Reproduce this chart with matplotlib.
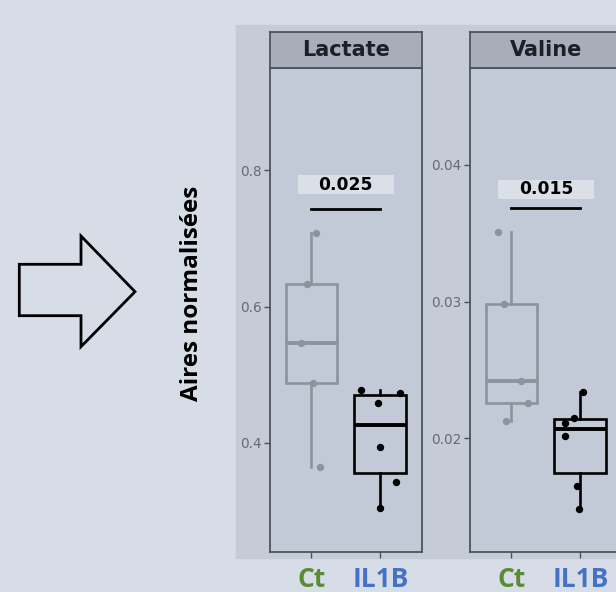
import numpy as np
import matplotlib
matplotlib.use("Agg")
import matplotlib.pyplot as plt
from matplotlib.patches import Rectangle, Polygon

# data
groups = ["Ct", "IL1B"]
group_colors = ["#5a8a34", "#4472c4"]

lactate_ct = [0.708, 0.633, 0.547, 0.488, 0.364]
lactate_il1b = [0.477, 0.473, 0.459, 0.394, 0.342, 0.304]
lactate_jit_ct = [0.06, -0.07, -0.155, 0.02, 0.12]
lactate_jit_il1b = [-0.275, 0.29, -0.035, -0.01, 0.23, 0.0]
lactate_ticks = [0.4, 0.6, 0.8]
lactate_ylim = (0.240, 0.951)
lactate_p = "0.025"
lactate_bar_y = 0.743
lactate_label_y = 0.779

valine_ct = [0.0351, 0.0298, 0.0242, 0.0226, 0.0213]
valine_il1b = [0.0234, 0.0215, 0.0211, 0.0202, 0.0165, 0.0148]
valine_jit_ct = [-0.2, -0.107, 0.144, 0.24, -0.082]
valine_jit_il1b = [0.033, -0.097, -0.22, -0.22, -0.048, -0.014]
valine_ticks = [0.02, 0.03, 0.04]
valine_ylim = (0.0117, 0.04712)
valine_p = "0.015"
valine_bar_y = 0.03683
valine_label_y = 0.03824

W, H = 616, 592
fig = plt.figure(figsize=(W / 100, H / 100), dpi=100)
fig.patch.set_facecolor("#d7dde7")


def px(x0, y0, x1, y1):
    # pixel box -> figure fraction [l, b, w, h]
    return [x0 / W, 1 - y1 / H, (x1 - x0) / W, (y1 - y0) / H]


# plot background
fig.patches.append(Rectangle((236 / W, 1 - 558 / H), 1, (558 - 25) / H,
                             transform=fig.transFigure, color="#c5ccd8", zorder=-5))

# block arrow
arrow = [(19.3, 264.3), (81, 264.3), (81, 236), (135, 291.7), (81, 346.7), (81, 315.7), (19.3, 315.7)]
fig.patches.append(Polygon([(x / W, 1 - y / H) for x, y in arrow], closed=True,
                           transform=fig.transFigure, fill=False, ec="black", lw=2))

fig.text(192 / W, 1 - 293 / H, "Aires normalisées", rotation=90, ha="center", va="center",
         fontsize=17.5, fontweight="bold", family="Open Sans", color="black")

border = "#4e535b"


def panel(left, title, ct, il, jct, jil, ticks, ylim, p, bar_y, lab_y):
    ax = fig.add_axes(px(left, 67.7, left + 151.7, 551.7))
    ax.set_facecolor("#c3cad7")
    bp = ax.boxplot([ct, il], positions=[1, 2], widths=0.75, whis=1.5, showfliers=False,
                    showcaps=False, patch_artist=True)
    cols = ["#8e949d", "black"]
    for i, c in enumerate(cols):
        bp["boxes"][i].set(facecolor="none", edgecolor=c, lw=1.9)
        bp["medians"][i].set(color=c, lw=2.8)
        for w in bp["whiskers"][2 * i:2 * i + 2]:
            w.set(color=c, lw=1.9)
    ax.plot(np.array(jct) + 1, ct, "o", color=cols[0], ms=4.3, zorder=3)
    ax.plot(np.array(jil) + 2, il, "o", color=cols[1], ms=4.3, zorder=3)
    ax.plot([1, 2], [bar_y, bar_y], color="black", lw=2)
    yr = ylim[1] - ylim[0]
    ax.add_patch(Rectangle((1.5 - 0.7, lab_y - 9.5 / 484 * yr), 1.4, 19 / 484 * yr,
                           color="#dbe0e8", zorder=2, lw=0))
    ax.text(1.5, lab_y, p, ha="center", va="center", fontsize=12.3, fontweight="bold",
            color="black", zorder=4)
    ax.set_xlim(0.4, 2.6)
    ax.set_ylim(*ylim)
    ax.set_yticks(ticks)
    ax.set_yticklabels([f"{t:g}" for t in ticks], fontsize=9.8, color="#666a72")
    ax.set_xticks([1, 2])
    ax.set_xticklabels(groups, fontsize=19, fontweight="bold", family="Open Sans")
    for lab, c in zip(ax.get_xticklabels(), group_colors):
        lab.set_color(c)
    ax.tick_params(axis="both", length=4, width=1, color=border, pad=2)
    ax.tick_params(axis="x", pad=6)
    for s in ax.spines.values():
        s.set_color(border)
        s.set_linewidth(1.3)

    st = fig.add_axes(px(left, 31.7, left + 151.7, 67.7))
    st.set_facecolor("#a7aeb9")
    st.set_xticks([])
    st.set_yticks([])
    for s in st.spines.values():
        s.set_color(border)
        s.set_linewidth(1.3)
    st.text(0.5, 0.5, title, transform=st.transAxes, ha="center", va="center",
            fontsize=15, fontweight="bold", color="#1c1f26")
    return ax


panel(270, "Lactate", lactate_ct, lactate_il1b, lactate_jit_ct, lactate_jit_il1b,
      lactate_ticks, lactate_ylim, lactate_p, lactate_bar_y, lactate_label_y)
panel(470, "Valine", valine_ct, valine_il1b, valine_jit_ct, valine_jit_il1b,
      valine_ticks, valine_ylim, valine_p, valine_bar_y, valine_label_y)

fig.savefig("out.png", dpi=100)
